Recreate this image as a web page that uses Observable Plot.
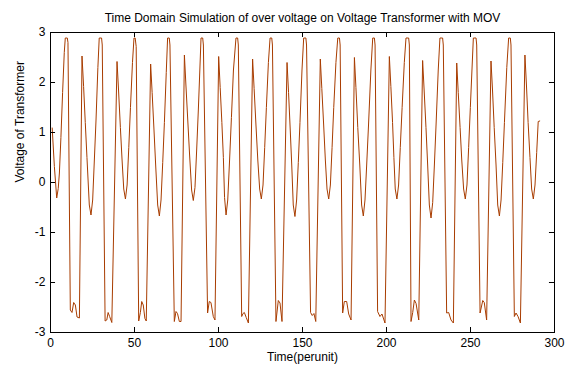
<!DOCTYPE html>
<html><head><meta charset="utf-8">
<script src="https://cdn.jsdelivr.net/npm/d3@7"></script>
<script src="https://cdn.jsdelivr.net/npm/@observablehq/plot@0.6"></script>
<style>body{margin:0;background:#fff;}</style>
</head><body><div id="chart"></div>
<script>
const title = "Time Domain Simulation of over voltage on Voltage Transformer with MOV";
const xLabel = "Time(perunit)";
const yLabel = "Voltage of Transformer";
const xTicks = [0, 50, 100, 150, 200, 250, 300];
const yTicks = [-3, -2, -1, 0, 1, 2, 3];

const time = [
  1, 2.3, 3.7, 4.6, 5.3, 6.2, 7.2, 8.2, 8.8, 10, 10.4,
  11.8, 12.8, 13.8, 14.8, 15.8, 17.2,
  18.75, 19.7, 20.7, 21.7, 23.1, 24.1, 25.1, 26.1, 27.1, 28.2, 29, 30.4, 30.8,
  32.5, 33.5, 34.3, 35.2, 36.5,
  39.6, 40.5, 41.6, 42.6, 43.6, 44.6, 45.6, 46.6, 47.6, 48.8, 49.7, 50.4, 51,
  52.5, 53.5, 54.3, 55.2, 56.2, 57,
  59.6, 60.5, 61.6, 62.6, 63.8, 64.8, 65.8, 66.8, 67.8, 68.9, 69.7, 70.7, 71.1,
  73.7, 74.7, 75.6, 76.7, 77.7,
  79.7, 80.6, 81.7, 82.8, 84, 85, 86, 87, 88, 89, 89.6, 90.6, 91,
  93.5, 94.5, 95.5, 96.9, 97.9,
  100.1, 101, 102, 102.9, 103.6, 104.5, 105.5, 106.6, 107.7, 108.9, 110.4, 111.4, 111.8,
  113.8, 114.6, 115.4, 116.5, 117.8,
  120.3, 121.2, 122.3, 123.4, 124.5, 125.5, 126.5, 127.5, 128.5, 129.7, 130.7, 131.7, 132.1,
  134.2, 135.6, 136.6, 137.8,
  140.8, 141.7, 142.7, 143.6, 144.5, 145.5, 146.5, 147.5, 148.5, 149.7, 150.7, 152, 152.4,
  154.8, 155.8, 156.8, 157.9,
  160.6, 161.5, 162.6, 163.6, 164.6, 165.6, 166.6, 167.6, 168.6, 169.9, 171, 172, 172.4,
  173.9, 174.9, 176.3, 177.5, 178.9,
  180.9, 181.8, 182.9, 184.1, 185.2, 186.2, 187.2, 188.2, 189.3, 190.7, 191.8, 192.8, 193.2,
  194.7, 196.1, 197.3, 199.1,
  201.7, 202.6, 203.6, 204.4, 205.2, 206.2, 207.2, 208.2, 209.3, 210.6, 211.6, 213.2, 213.6,
  214.6, 215.6, 216.6, 217.6, 219.2,
  221.5, 222.4, 223.5, 224.5, 225.5, 226.5, 227.5, 228.5, 229.5, 230.8, 231.8, 233.4, 233.8,
  235.8, 237, 238.4, 239.8,
  241.8, 242.7, 243.8, 244.8, 245.9, 246.9, 247.9, 248.9, 249.9, 251, 251.7, 253.3, 253.7,
  255.7, 257.3, 258.2, 259.6,
  262.2, 263.1, 264.1, 265.2, 266.2, 267.2, 268.2, 269.2, 270.2, 271.6, 272.7, 273.7, 274.1,
  276.1, 277.1, 278.3, 279.7,
  282.4, 283.3, 284.3, 285.4, 286.4, 287.4, 288.4, 289.4, 290.3, 291.2
];
const voltage = [
  1.09, 0.32, -0.31, -0.12, 0.19, 0.9, 1.8, 2.6, 2.89, 2.89, 2.8,
  -2.55, -2.6, -2.4, -2.45, -2.69, -2.71,
  2.53, 1.92, 1.2, 0.5, -0.45, -0.65, -0.35, 0.45, 1.25, 2.3, 2.89, 2.89, 2.75,
  -2.77, -2.75, -2.6, -2.68, -2.8,
  2.42, 1.85, 1.1, 0.45, -0.13, -0.33, -0.05, 0.7, 1.5, 2.4, 2.89, 2.89, 2.72,
  -2.77, -2.6, -2.38, -2.45, -2.72, -2.77,
  2.37, 1.8, 1.05, 0.35, -0.45, -0.67, -0.35, 0.4, 1.2, 2.2, 2.89, 2.89, 2.75,
  -2.78, -2.58, -2.62, -2.78, -2.78,
  2.55, 1.95, 1.25, 0.55, -0.15, -0.36, -0.1, 0.65, 1.45, 2.35, 2.89, 2.89, 2.75,
  -2.61, -2.38, -2.4, -2.68, -2.75,
  2.52, 1.9, 1.2, 0.5, -0.3, -0.65, -0.35, 0.45, 1.3, 2.25, 2.89, 2.89, 2.75,
  -2.68, -2.62, -2.6, -2.7, -2.81,
  2.47, 1.88, 1.15, 0.45, -0.13, -0.33, -0.05, 0.7, 1.5, 2.4, 2.89, 2.89, 2.75,
  -2.78, -2.36, -2.41, -2.78,
  2.4, 1.8, 1.05, 0.35, -0.45, -0.68, -0.35, 0.4, 1.2, 2.25, 2.89, 2.89, 2.75,
  -2.6, -2.66, -2.62, -2.78,
  2.47, 1.88, 1.15, 0.45, -0.13, -0.33, -0.05, 0.7, 1.5, 2.4, 2.89, 2.89, 2.75,
  -2.61, -2.38, -2.38, -2.63, -2.75,
  2.5, 1.9, 1.1, 0.35, -0.45, -0.67, -0.35, 0.35, 1.15, 2.25, 2.89, 2.89, 2.75,
  -2.58, -2.68, -2.63, -2.81,
  2.52, 1.92, 1.2, 0.5, -0.13, -0.33, -0.05, 0.7, 1.5, 2.4, 2.89, 2.89, 2.75,
  -2.78, -2.6, -2.35, -2.42, -2.75,
  2.44, 1.85, 1.1, 0.35, -0.45, -0.71, -0.4, 0.35, 1.15, 2.25, 2.89, 2.89, 2.75,
  -2.61, -2.6, -2.75, -2.81,
  2.39, 1.8, 1.1, 0.45, -0.13, -0.33, -0.05, 0.7, 1.5, 2.35, 2.89, 2.89, 2.75,
  -2.61, -2.36, -2.4, -2.75,
  2.43, 1.85, 1.1, 0.35, -0.45, -0.67, -0.35, 0.4, 1.2, 2.3, 2.89, 2.89, 2.75,
  -2.68, -2.61, -2.68, -2.81,
  2.55, 1.95, 1.2, 0.5, -0.13, -0.33, -0.05, 0.6, 1.22, 1.23
];

const data = time.map((t, i) => ({t, v: voltage[i]}));

const chart = Plot.plot({
  width: 568, height: 370,
  marginLeft: 50, marginRight: 14, marginTop: 32, marginBottom: 38,
  style: {fontFamily: "Arial, 'Liberation Sans', sans-serif", fontSize: "12px", background: "white", color: "black"},
  x: {domain: [0, 300]},
  y: {domain: [-3, 3]},
  marks: [
    Plot.line(data, {x: "t", y: "v", stroke: "#a83c00", strokeWidth: 1}),
    Plot.ruleX(xTicks, {x: d => d, y1: -3, y2: -2.9, stroke: "black"}),
    Plot.ruleX(xTicks, {x: d => d, y1: 3, y2: 2.9, stroke: "black"}),
    Plot.ruleY(yTicks, {y: d => d, x1: 0, x2: 3, stroke: "black"}),
    Plot.ruleY(yTicks, {y: d => d, x1: 300, x2: 297, stroke: "black"}),
    Plot.frame({stroke: "black"}),
    Plot.axisX(xTicks, {tickSize: 0, tickPadding: 6, label: null, fontSize: 12, tickFormat: d => String(d)}),
    Plot.axisY(yTicks, {tickSize: 0, tickPadding: 5, label: null, fontSize: 12, tickFormat: d => String(d)}),
    Plot.text([xLabel], {frameAnchor: "bottom", lineAnchor: "middle", dy: 25, fontSize: 12}),
    Plot.text([yLabel], {frameAnchor: "left", rotate: -90, dx: -30, fontSize: 12}),
    Plot.text([title], {frameAnchor: "top", lineAnchor: "middle", dy: -14, fontSize: 12})
  ]
});
document.getElementById("chart").append(chart);
</script>
</body></html>
